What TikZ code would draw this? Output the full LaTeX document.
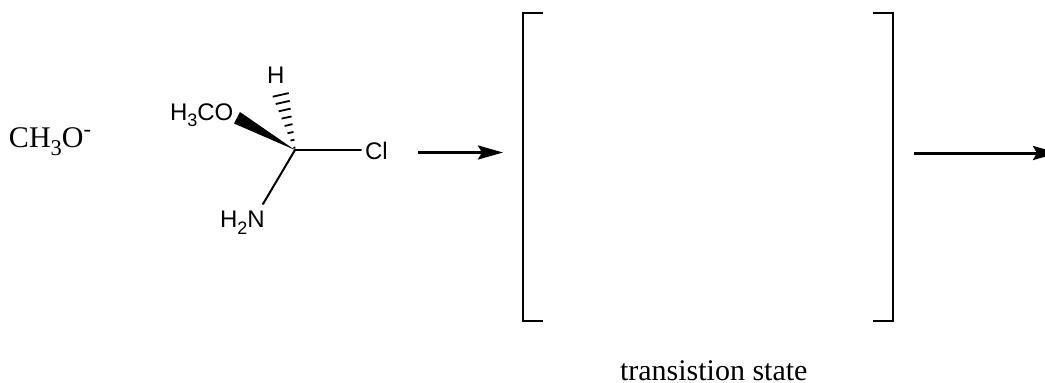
\documentclass[tikz,border=0pt]{standalone}
\usepackage{fontspec}
\setmainfont{Liberation Serif}
\newfontfamily\labfont{Liberation Sans}
\usetikzlibrary{arrows.meta,calc}
\newcommand{\subb}[1]{\raisebox{-0.28em}{\scalebox{0.75}{#1}}}
\tikzset{
  x=1pt,y=-1pt,
  atom/.style={inner sep=0pt,outer sep=0pt,font=\labfont\fontsize{24}{24}\selectfont,anchor=base west},
  serif/.style={inner sep=0pt,outer sep=0pt,font=\fontsize{30}{30}\selectfont,anchor=base west},
  bond/.style={line width=2pt,line cap=round},
  bracket/.style={line width=2pt,line join=miter},
  rxn/.style={line width=3pt,-{Stealth[length=25pt,width=14pt,inset=4pt]}}
}
\begin{document}
\begin{tikzpicture}
\useasboundingbox (0,0) rectangle (1045,383);
\clip (0,0) rectangle (1045,383);
\fill[white] (0,0) rectangle (1045,383);
\node[serif] (anion) at (9,147) {CH\subb{3}O\raisebox{0.35em}{\scalebox{0.75}{-}}};
\coordinate (c) at (295,150);
\node[atom] (h) at (267,83.5) {H};
\node[atom] (och) at (170,120) {H\subb{3}CO};
\node[atom] (cl) at (365,159.5) {Cl};
\node[atom] (nh) at (220,227.5) {H\subb{2}N};
\coordinate (clb) at (361,150);
\coordinate (nb) at (263,204);
\draw[bond] (c) -- (clb);
\draw[bond] (c) -- (nb);
\coordinate (w1) at (240,112);
\coordinate (w2) at (234,123.5);
\fill (c) -- (w1) -- (w2) -- cycle;
\foreach \t/\hw in {0.04/1.0,0.17/2.0,0.30/3.0,0.43/4.0,0.56/5.0,0.69/6.0,0.82/7.0,0.95/8.0}{
  \draw[line width=1.8pt] ($(c)!\t!(280,92)+(-\hw,1.8*\hw/8)$) -- ($(c)!\t!(280,92)+(\hw,-1.8*\hw/8)$);
}
\coordinate (a1s) at (418,152.5);
\coordinate (a1e) at (503,152.5);
\draw[rxn] (a1s) -- (a1e);
\coordinate (a2s) at (914,153);
\coordinate (a2e) at (1058,153);
\draw[rxn] (a2s) -- (a2e);
\draw[bracket] (543,13) -- (523,13) -- (523,320.5) -- (543,320.5);
\draw[bracket] (873,13) -- (893,13) -- (893,320.5) -- (873,320.5);
\node[serif] (ts) at (620,380) {transistion state};
\end{tikzpicture}
\end{document}
